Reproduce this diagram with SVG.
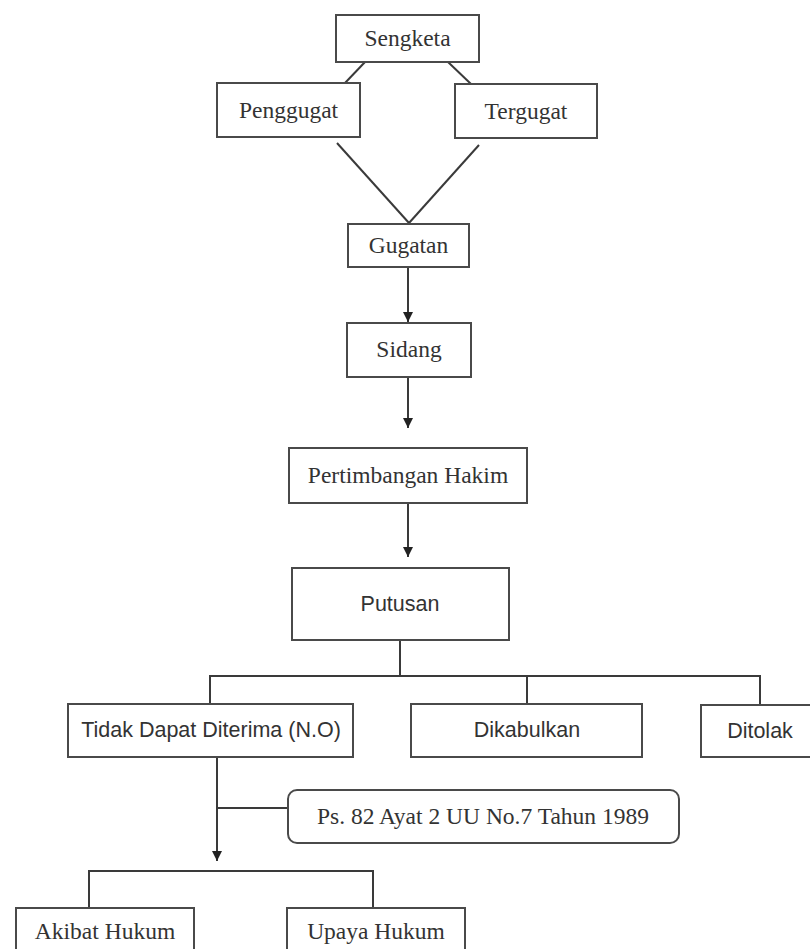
<svg xmlns="http://www.w3.org/2000/svg" width="810" height="949" viewBox="0 0 810 949">
<defs>
<style>
.box{fill:#fff;stroke:#4a4a4a;stroke-width:2}
.ln{fill:none;stroke:#3a3a3a;stroke-width:2}
.serif{font-family:"Liberation Serif","Times New Roman",serif;font-size:23.5px;fill:#333;text-anchor:middle}
.sans{font-family:"Liberation Sans",Arial,sans-serif;font-size:21.5px;fill:#333;text-anchor:middle}
</style>
<marker id="arr" markerUnits="userSpaceOnUse" markerWidth="12" markerHeight="12" viewBox="0 0 12 12" refX="10" refY="6" orient="auto">
<path d="M0,1 L10,6 L0,11 Z" fill="#222"/>
</marker>
</defs>
<rect width="810" height="949" fill="#fff"/>
<g id="connectors">
<line class="ln" x1="365" y1="62" x2="345" y2="83"/>
<line class="ln" x1="448" y1="62" x2="471" y2="84"/>
<line class="ln" x1="337" y1="143" x2="409" y2="223"/>
<line class="ln" x1="479" y1="145" x2="409" y2="223"/>
<line class="ln" x1="408" y1="267" x2="408" y2="322" marker-end="url(#arr)"/>
<line class="ln" x1="408" y1="377" x2="408" y2="428" marker-end="url(#arr)"/>
<line class="ln" x1="408" y1="503" x2="408" y2="557" marker-end="url(#arr)"/>
<polyline class="ln" points="400,640 400,676"/>
<polyline class="ln" points="210,704 210,676 760,676 760,705"/>
<line class="ln" x1="527" y1="676" x2="527" y2="704"/>
<line class="ln" x1="217" y1="757" x2="217" y2="861" marker-end="url(#arr)"/>
<line class="ln" x1="217" y1="808" x2="288" y2="808"/>
<polyline class="ln" points="89,908 89,871 373,871 373,908"/>
</g>
<g id="sengketa"><rect class="box" x="336" y="15" width="143" height="47"/><text class="serif" x="407.5" y="46">Sengketa</text></g>
<g id="penggugat"><rect class="box" x="217" y="83" width="143" height="54"/><text class="serif" x="288.5" y="118">Penggugat</text></g>
<g id="tergugat"><rect class="box" x="455" y="84" width="142" height="54"/><text class="serif" x="526" y="119">Tergugat</text></g>
<g id="gugatan"><rect class="box" x="348" y="224" width="121" height="43"/><text class="serif" x="408.5" y="253">Gugatan</text></g>
<g id="sidang"><rect class="box" x="347" y="323" width="124" height="54"/><text class="serif" x="409" y="357">Sidang</text></g>
<g id="pertimbangan"><rect class="box" x="289" y="448" width="238" height="55"/><text class="serif" x="408" y="483">Pertimbangan Hakim</text></g>
<g id="putusan"><rect class="box" x="292" y="568" width="217" height="72"/><text class="sans" x="400" y="611">Putusan</text></g>
<g id="tidak"><rect class="box" x="68" y="704" width="285" height="53"/><text class="sans" x="211" y="737">Tidak Dapat Diterima (N.O)</text></g>
<g id="dikabulkan"><rect class="box" x="411" y="704" width="231" height="53"/><text class="sans" x="527" y="737">Dikabulkan</text></g>
<g id="ditolak"><rect class="box" x="701" y="705" width="115" height="52"/><text class="sans" x="760" y="738">Ditolak</text></g>
<g id="ps82"><rect class="box" x="288" y="790" width="391" height="53" rx="9"/><text class="serif" x="483" y="824">Ps. 82 Ayat 2 UU No.7 Tahun 1989</text></g>
<g id="akibat"><rect class="box" x="16" y="908" width="178" height="50"/><text class="serif" x="105" y="939">Akibat Hukum</text></g>
<g id="upaya"><rect class="box" x="287" y="908" width="178" height="50"/><text class="serif" x="376" y="939">Upaya Hukum</text></g>
</svg>
